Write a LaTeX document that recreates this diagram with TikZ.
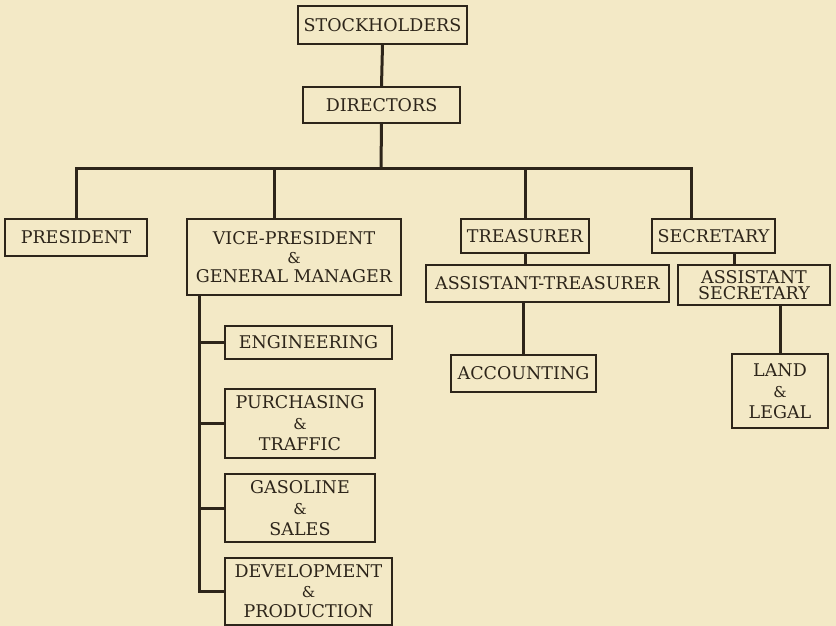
\documentclass[tikz,border=0pt]{standalone}
\usepackage{fontspec}
\setmainfont{DejaVu Serif}
\usetikzlibrary{calc}
\definecolor{paper}{RGB}{243,233,198}
\definecolor{ink}{RGB}{45,37,26}
\newcommand{\amp}{{\fontsize{15}{15}\selectfont\&}}
\tikzset{
  orgbox/.style={draw=ink, line width=1.8pt, text=ink, inner sep=0pt,
    align=center, font=\fontsize{17.5}{20}\selectfont},
  link/.style={draw=ink, line width=3pt}
}
\begin{document}
\begin{tikzpicture}[x=1pt,y=-1pt]
\fill[paper] (0,0) rectangle (836,626);
\useasboundingbox (0,0) rectangle (836,626);

% top of the chart
\node[orgbox, minimum width=169, minimum height=38] (stock) at (382.5,25) {STOCKHOLDERS};
\node[orgbox, minimum width=157, minimum height=36] (dir) at (381.5,105) {DIRECTORS};

% officers
\node[orgbox, minimum width=142, minimum height=37] (pres) at (76,237.5) {PRESIDENT};
\node[orgbox, minimum width=214, minimum height=76, font=\fontsize{17.5}{19}\selectfont] (vp) at (294,257) {VICE-PRESIDENT\\\amp\\GENERAL MANAGER};
\node[orgbox, minimum width=128, minimum height=34] (treas) at (525,236) {TREASURER};
\node[orgbox, minimum width=243, minimum height=37] (atreas) at (547.5,283.5) {ASSISTANT-TREASURER};
\node[orgbox, minimum width=123, minimum height=34] (sec) at (713.5,236) {SECRETARY};
\node[orgbox, minimum width=152, minimum height=40, font=\fontsize{17.5}{16}\selectfont] (asec) at (754,285) {ASSISTANT\\SECRETARY};
\node[orgbox, minimum width=145, minimum height=37] (acct) at (523.5,373.5) {ACCOUNTING};
\node[orgbox, minimum width=96, minimum height=74, font=\fontsize{17.5}{21}\selectfont] (land) at (780,391) {LAND\\\amp\\LEGAL};

% departments under the general manager
\node[orgbox, minimum width=167, minimum height=33] (eng) at (308.5,342.5) {ENGINEERING};
\node[orgbox, minimum width=150, minimum height=69, font=\fontsize{17.5}{21}\selectfont] (purch) at (300,423.5) {PURCHASING\\\amp\\TRAFFIC};
\node[orgbox, minimum width=150, minimum height=68, font=\fontsize{17.5}{21}\selectfont] (gas) at (300,508) {GASOLINE\\\amp\\SALES};
\node[orgbox, minimum width=167, minimum height=67] (dev) at (308.5,591.5) {DEVELOPMENT\\\amp\\PRODUCTION};

% connection points off the box centres
\coordinate (bar) at (381,168);
\coordinate (vpdrop) at ($(vp.north west)+(88,0)$);
\coordinate (secdrop) at ($(sec.north west)+(40,0)$);
\coordinate (seclink) at ($(sec.south west)+(83,0)$);
\coordinate (trunk) at ($(vp.south west)+(13,0)$);

% connectors
\draw[link] (stock.south) -- (dir.north);
\draw[link] (dir.south) -- (bar);
\draw[link] (pres.north) -- (pres.north |- bar) -- (secdrop |- bar) -- (secdrop);
\draw[link] (vpdrop |- bar) -- (vpdrop);
\draw[link] (treas.north |- bar) -- (treas.north);
\draw[link] (treas.south) -- (treas.south |- atreas.north);
\draw[link] (acct.north |- atreas.south) -- (acct.north);
\draw[link] (seclink) -- (seclink |- asec.north);
\draw[link] (land.north |- asec.south) -- (land.north);
\draw[link] (trunk) -- (trunk |- dev.west) -- (dev.west);
\draw[link] (trunk |- eng.west) -- (eng.west);
\draw[link] (trunk |- purch.west) -- (purch.west);
\draw[link] (trunk |- gas.west) -- (gas.west);
\end{tikzpicture}
\end{document}
